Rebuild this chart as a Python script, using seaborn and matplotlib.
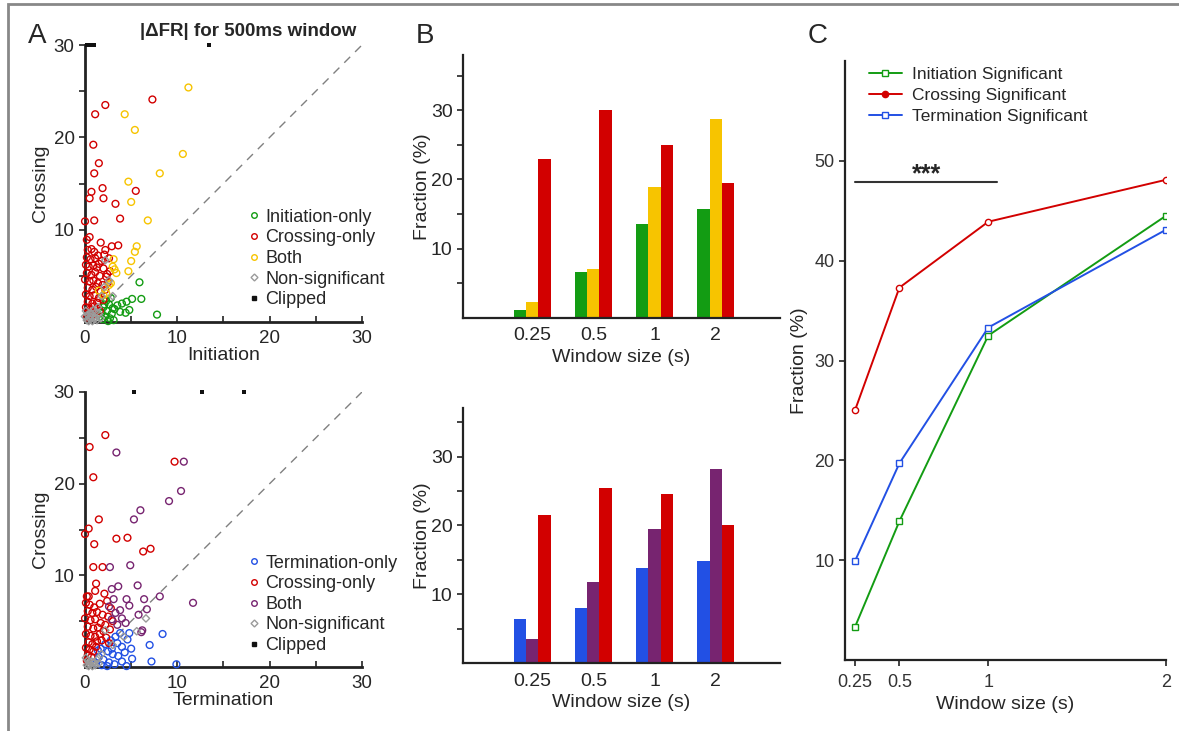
import matplotlib as mpl

mpl.use('Agg')
import matplotlib.pyplot as plt
from matplotlib.lines import Line2D
from matplotlib.patches import Rectangle
from matplotlib.ticker import FixedLocator
import numpy as np
import pandas as pd
import seaborn as sns

sns.set_theme(style='white')
plt.rcParams['font.family'] = ['Liberation Sans', 'DejaVu Sans']

GREEN = '#139c13'
RED = '#d20000'
GOLD = '#f7c400'
GRAY = '#9a9a9a'
BLUE = '#2250e4'
PURPLE = '#772470'

#### data ####
# panel A, top: |dFR| initiation (x) vs crossing (y)
init_only = [(5.9, 4.3), (7.8, 0.8), (6.1, 2.5), (5.1, 2.5), (4.5, 2.2), (4.0, 2.0),
             (3.5, 1.8), (4.8, 1.3), (4.4, 1.0), (3.8, 1.1), (3.2, 1.4), (2.3, 2.3),
             (2.6, 1.9), (2.0, 1.6), (2.4, 1.2), (2.9, 0.9), (1.8, 1.0), (2.2, 0.6),
             (2.7, 0.4), (1.9, 0.3), (3.1, 0.2), (2.5, 0.1), (1.6, 0.6), (2.1, 1.9),
             (3.0, 1.5), (2.8, 2.6)]
cross_only_top = [(2.2, 23.5), (1.1, 22.5), (7.3, 24.1), (0.9, 19.2), (1.5, 17.2), (1.0, 16.1),
                  (0.7, 14.1), (1.9, 14.5), (0.5, 13.4), (2.0, 13.4), (3.3, 12.8), (5.5, 14.2),
                  (3.8, 11.2), (0.0, 10.9), (1.0, 11.0), (0.2, 8.9), (0.5, 9.2), (1.7, 8.6),
                  (2.9, 8.2), (3.6, 8.3), (2.2, 7.8),
                  (0.3, 7.8), (0.7, 7.9), (1.0, 7.6), (1.4, 7.2), (0.2, 7.0), (0.6, 6.8),
                  (1.1, 6.9), (1.8, 6.6), (2.6, 6.9), (0.1, 6.2), (0.4, 6.0), (0.9, 6.1),
                  (1.3, 5.9), (2.0, 5.8), (2.7, 5.5), (0.2, 5.3), (0.7, 5.1), (1.1, 5.4),
                  (1.6, 5.0), (2.3, 4.9), (0.0, 4.6), (0.5, 4.4), (0.9, 4.5), (1.4, 4.2),
                  (1.9, 4.0), (2.5, 4.3), (0.3, 3.7), (0.8, 3.5), (1.2, 3.8), (1.7, 3.3),
                  (2.2, 3.5), (0.1, 3.0), (0.5, 2.8), (1.0, 2.9), (1.5, 2.6), (0.3, 2.2),
                  (0.8, 2.0), (1.3, 2.1), (0.1, 1.6), (0.6, 1.4), (1.0, 1.7), (0.4, 1.0),
                  (0.9, 0.8), (0.2, 0.5), (1.6, 1.2), (2.0, 2.4), (2.4, 5.2), (1.5, 6.3),
                  (2.1, 7.3)]
both_top = [(11.2, 25.4), (4.3, 22.5), (5.4, 20.8), (10.6, 18.2), (8.1, 16.1), (4.7, 15.2),
            (5.0, 13.0), (6.8, 11.0), (5.6, 8.2), (5.4, 7.6), (5.0, 6.6), (4.7, 5.5),
            (3.1, 6.8), (3.0, 6.0), (3.2, 5.7), (2.8, 4.2), (2.3, 3.1), (1.5, 3.4),
            (2.6, 4.0), (2.0, 2.9), (3.4, 5.3)]
nonsig_top = [(0.2, 0.2), (0.5, 0.4), (0.8, 0.1), (1.1, 0.5), (0.3, 0.8), (0.7, 0.9),
              (1.3, 0.2), (1.5, 0.9), (0.1, 1.2), (0.9, 1.3), (1.2, 1.1), (0.4, 0.1),
              (1.0, 0.3), (1.7, 0.4), (0.6, 0.6), (2.2, 6.7), (2.6, 4.5), (3.0, 2.8),
              (1.8, 2.8), (2.1, 3.8), (0.0, 0.6), (1.4, 1.6)]
clipped_top_x = [0.2, 0.5, 0.8, 1.0, 13.4]

# panel A, bottom: termination (x) vs crossing (y)
term_only = [(8.4, 3.6), (7.0, 2.4), (7.2, 0.6), (9.9, 0.3), (5.1, 0.9), (4.5, 0.1),
             (4.8, 3.7), (4.0, 2.2), (3.8, 3.7), (4.6, 3.0), (3.3, 3.3), (2.8, 2.9),
             (2.2, 2.5), (1.7, 2.0), (3.5, 2.6), (2.5, 1.7), (3.0, 1.4), (1.5, 1.1),
             (2.0, 0.8), (2.6, 0.5), (3.2, 0.3), (1.2, 0.4), (4.0, 0.6), (3.6, 1.2),
             (1.8, 0.2), (2.4, 0.1), (4.3, 1.6), (2.9, 2.0), (5.0, 2.0), (1.4, 1.8)]
cross_only_bot = [(2.2, 25.3), (0.5, 24.0), (0.9, 20.7), (1.5, 16.1), (0.4, 15.1), (0.0, 14.5),
                  (1.0, 13.4), (3.4, 14.0), (4.6, 14.1), (6.3, 12.6), (7.1, 12.9), (0.9, 10.9),
                  (1.9, 10.9), (9.7, 22.4), (1.2, 9.1), (1.1, 8.3), (0.2, 7.7), (0.4, 7.7),
                  (2.1, 8.0),
                  (0.1, 7.0), (0.5, 6.8), (1.0, 6.5), (1.6, 6.9), (2.4, 7.2), (2.8, 6.4),
                  (0.3, 6.1), (0.8, 5.9), (1.3, 6.0), (1.9, 5.7), (2.5, 5.5), (0.0, 5.3),
                  (0.6, 5.1), (1.1, 5.2), (1.7, 4.8), (2.2, 4.6), (0.3, 4.4), (0.9, 4.2),
                  (1.4, 4.3), (2.0, 3.9), (2.7, 4.1), (0.1, 3.6), (0.6, 3.4), (1.1, 3.3),
                  (1.6, 3.6), (2.3, 3.2), (0.4, 2.7), (0.8, 2.5), (1.3, 2.8), (0.1, 2.1),
                  (0.5, 1.9), (0.9, 1.7), (0.3, 1.3), (0.7, 1.1), (0.2, 0.7), (1.2, 2.2),
                  (1.8, 2.9), (3.0, 5.0), (2.6, 2.6)]
both_bot = [(3.4, 23.4), (10.7, 22.4), (10.4, 19.2), (9.1, 18.1), (6.0, 17.1), (5.3, 16.1),
            (4.9, 11.1), (2.7, 10.9), (5.7, 8.9), (3.6, 8.8), (2.9, 8.5), (8.1, 7.7),
            (11.7, 7.0), (6.4, 7.4), (4.5, 7.4), (4.8, 6.7), (6.7, 6.3), (5.8, 5.7),
            (6.2, 4.0), (6.1, 3.8), (4.4, 4.8), (3.3, 5.9), (2.6, 6.6), (3.1, 7.4),
            (3.8, 6.2), (4.0, 5.3), (3.5, 4.6), (2.9, 5.2)]
nonsig_bot = [(6.6, 5.3), (5.6, 3.9), (0.2, 0.2), (0.5, 0.3), (0.8, 0.1), (0.3, 0.7),
              (0.7, 0.6), (1.1, 0.2), (1.3, 0.8), (0.1, 1.0), (1.5, 0.4), (0.4, 0.1),
              (1.0, 0.5), (4.2, 3.3), (3.0, 2.4), (1.8, 1.4), (2.2, 4.0)]
clipped_bot_x = [5.3, 12.7, 17.2]

# panel B: fraction of significant units per window
windows = ['0.25', '0.5', '1', '2']
frac_init_only = [1.1, 6.6, 13.5, 15.7]
frac_init_both = [2.2, 7.1, 18.9, 28.8]
frac_init_cross = [23.0, 30.0, 25.0, 19.5]
frac_term_only = [6.4, 8.0, 13.9, 14.9]
frac_term_both = [3.5, 11.8, 19.5, 28.2]
frac_term_cross = [21.5, 25.5, 24.6, 20.0]

# panel C
window_s = [0.25, 0.5, 1, 2]
sig_init = [3.3, 13.9, 32.5, 44.5]
sig_cross = [25.0, 37.3, 43.9, 48.1]
sig_term = [9.9, 19.7, 33.3, 43.1]
########################

W, H = 1179, 731
fig = plt.figure(figsize=(W / 100, H / 100), dpi=100)


def px_axes(left, top, right, bottom):
    return fig.add_axes([left / W, (H - bottom) / H, (right - left) / W, (bottom - top) / H])


def style_axis(axis, lw=1.6):
    for s in ['top', 'right']:
        axis.spines[s].set_visible(False)
    for s in ['left', 'bottom']:
        axis.spines[s].set_color('#222222')
        axis.spines[s].set_linewidth(lw)


def scatter_panel(axis, groups, clipped_x, xlabel, labels):
    for pts, color, marker, size in groups:
        df = pd.DataFrame(pts, columns=['x', 'y'])
        sns.scatterplot(data=df, x='x', y='y', color=color, marker=marker, s=size,
                        facecolor='none', edgecolor=color, linewidth=1.0,
                        ax=axis, clip_on=False, zorder=3)
    cdf = pd.DataFrame({'x': clipped_x, 'y': [30] * len(clipped_x)})
    sns.scatterplot(data=cdf, x='x', y='y', color='#111111', marker='s', s=12,
                    linewidth=0, ax=axis, clip_on=False, zorder=4)
    axis.plot([0, 30], [0, 30], ls=(0, (6, 5)), color='#808080', lw=1, zorder=2)
    axis.set_xlim(0, 30)
    axis.set_ylim(0, 30)
    axis.xaxis.set_major_locator(FixedLocator([0, 10, 20, 30]))
    axis.xaxis.set_minor_locator(FixedLocator([5, 15, 25]))
    axis.yaxis.set_major_locator(FixedLocator([10, 20, 30]))
    axis.yaxis.set_minor_locator(FixedLocator([5, 15, 25]))
    axis.tick_params(axis='both', which='both', labelsize=13.5, color='#222222',
                     width=1.2, length=4, direction='out', bottom=True, left=True)
    axis.tick_params(axis='x', which='both', direction='in', pad=6)
    axis.set_xlabel(xlabel, fontsize=14, labelpad=0)
    axis.set_ylabel('Crossing', fontsize=14, labelpad=3)
    style_axis(axis, 2)
    colors = [g[1] for g in groups]
    handles = [Line2D([], [], ls='', marker='o', ms=4, mfc='none', mec=colors[0], mew=1),
               Line2D([], [], ls='', marker='o', ms=4, mfc='none', mec=colors[1], mew=1),
               Line2D([], [], ls='', marker='o', ms=4, mfc='none', mec=colors[2], mew=1),
               Line2D([], [], ls='', marker='D', ms=3.5, mfc='none', mec=GRAY, mew=1),
               Line2D([], [], ls='', marker='s', ms=3, mfc='#111111', mec='#111111')]
    axis.legend(handles, labels, loc='upper left', bbox_to_anchor=(0.55, 0.435),
                frameon=False, fontsize=13, handletextpad=0.15, labelspacing=0.2,
                borderaxespad=0, handlelength=1.0)


axA1 = px_axes(85, 45, 362, 322)
scatter_panel(axA1,
              [(init_only, GREEN, 'o', 24), (cross_only_top, RED, 'o', 24),
               (both_top, GOLD, 'o', 24), (nonsig_top, GRAY, 'D', 14)],
              clipped_top_x, 'Initiation',
              ['Initiation-only', 'Crossing-only', 'Both', 'Non-significant', 'Clipped'])

axA2 = px_axes(85, 392, 362, 667)
scatter_panel(axA2,
              [(term_only, BLUE, 'o', 24), (cross_only_bot, RED, 'o', 24),
               (both_bot, PURPLE, 'o', 24), (nonsig_bot, GRAY, 'D', 14)],
              clipped_bot_x, 'Termination',
              ['Termination-only', 'Crossing-only', 'Both', 'Non-significant', 'Clipped'])


def bar_panel(axis, only, both, cross, colors, ytop):
    df = pd.DataFrame({
        'window': windows * 3,
        'group': ['only'] * 4 + ['both'] * 4 + ['cross'] * 4,
        'fraction': only + both + cross,
    })
    sns.barplot(data=df, x='window', y='fraction', hue='group', order=windows,
                hue_order=['only', 'both', 'cross'], palette=colors, width=0.6,
                saturation=1, legend=False, ax=axis, linewidth=0)
    axis.set_xlim(-1.13, 4.05)
    axis.set_ylim(0, ytop)
    axis.yaxis.set_major_locator(FixedLocator([10, 20, 30]))
    axis.yaxis.set_minor_locator(FixedLocator([5, 15, 25, 35]))
    axis.tick_params(axis='y', which='both', left=True, length=4, width=1.2,
                     color='#222222', labelsize=14)
    axis.tick_params(axis='x', length=0, labelsize=14, pad=7)
    axis.set_xlabel('Window size (s)', fontsize=14, labelpad=3)
    axis.set_ylabel('Fraction (%)', fontsize=14, labelpad=0)
    style_axis(axis, 1.6)


axB1 = px_axes(463, 55, 780, 317.7)
bar_panel(axB1, frac_init_only, frac_init_both, frac_init_cross, [GREEN, GOLD, RED], 38)

axB2 = px_axes(463, 408.3, 780, 663.3)
bar_panel(axB2, frac_term_only, frac_term_both, frac_term_cross, [BLUE, PURPLE, RED], 37)

# panel C
axC = px_axes(845, 61, 1166, 660)
for vals, color, marker, name in [(sig_init, GREEN, 's', 'Initiation Significant'),
                                  (sig_cross, RED, 'o', 'Crossing Significant'),
                                  (sig_term, BLUE, 's', 'Termination Significant')]:
    sns.lineplot(x=window_s, y=vals, color=color, marker=marker, ms=4.5, mfc='white',
                 mec=color, mew=1, lw=1.4, label=name, ax=axC)
axC.plot([0.25, 1.05], [47.9, 47.9], color='#333333', lw=1.5)
axC.text(0.65, 47.4, '***', ha='center', va='bottom', fontsize=18, fontweight='bold')
axC.set_xlim(0.194, 2.0)
axC.set_ylim(0, 60)
axC.set_xticks(window_s)
axC.set_xticklabels(['0.25', '0.5', '1', '2'])
axC.set_yticks([10, 20, 30, 40, 50])
axC.tick_params(axis='both', bottom=True, left=True, length=4, width=1.2,
                color='#222222', labelsize=13, labelcolor='#333333')
axC.tick_params(axis='x', pad=6)
axC.set_xlabel('Window size (s)', fontsize=14, labelpad=4)
axC.set_ylabel('Fraction (%)', fontsize=14, labelpad=5)
style_axis(axC, 1.6)
leg = axC.legend(loc='upper left', bbox_to_anchor=(0.025, 1.017), frameon=False,
                 fontsize=12.5, handlelength=1.9, labelspacing=0.35, handletextpad=0.6)
for h, c in zip(leg.legend_handles, [GREEN, RED, BLUE]):
    h.set_markerfacecolor(c if c == RED else 'white')

# panel letters and title
fig.text(37 / W, 1 - 36 / H, 'A', fontsize=20, ha='center', va='center')
fig.text(425 / W, 1 - 36 / H, 'B', fontsize=20, ha='center', va='center')
fig.text(818 / W, 1 - 36 / H, 'C', fontsize=20, ha='center', va='center')
fig.text(248 / W, 1 - 32 / H, '|\u0394FR| for 500ms window', fontsize=13.5,
         fontweight='bold', ha='center', va='center')

# outer frame
fig.add_artist(Rectangle((8 / W, -0.1), 1.2, 1.1 - 4 / H, transform=fig.transFigure,
                         fill=False, ec='#888888', lw=2))

plt.savefig('out.png', dpi=100)
